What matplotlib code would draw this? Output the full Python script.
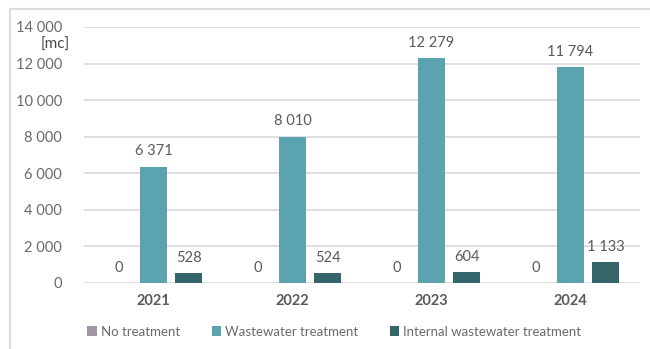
import numpy as np
import matplotlib.pyplot as plt
from matplotlib.lines import Line2D

years = ['2021', '2022', '2023', '2024']
no_treatment = [0, 0, 0, 0]
wastewater = [6371, 8010, 12279, 11794]
internal = [528, 524, 604, 1133]
series_names = ['No treatment', 'Wastewater treatment', 'Internal wastewater treatment']
colors = ['#a096a8', '#5ba3ae', '#33656a']

plt.rcParams['font.family'] = ['Lato', 'DejaVu Sans']
txt = '#5a5a5a'


def fmt(v):
    return f'{v:,.0f}'.replace(',', ' ')


fig = plt.figure(figsize=(6.5, 3.49), dpi=100)
ax = fig.add_axes([84 / 650, 66 / 349, 556 / 650, 256 / 349])

x = np.arange(len(years))
w = 0.195
off = 0.252
for i, vals in enumerate([no_treatment, wastewater, internal]):
    bars = ax.bar(x + (i - 1) * off, vals, w, color=colors[i], label=series_names[i], zorder=3)
    for b, v in zip(bars, vals):
        ax.annotate(fmt(v), (b.get_x() + b.get_width() / 2, v), xytext=(0, 6),
                    textcoords='offset points', ha='center', va='bottom',
                    fontsize=10.5, color=txt)

ax.set_xlim(-0.5, len(years) - 0.5)
ax.set_ylim(0, 14000)
ax.set_yticks(np.arange(0, 14001, 2000))
ax.set_yticklabels([fmt(t) for t in np.arange(0, 14001, 2000)])
ax.set_xticks(x)
ax.set_xticklabels(years, fontweight='bold')
ax.tick_params(axis='y', length=0, pad=16, labelsize=10.5, labelcolor='#6a6a6a')
ax.tick_params(axis='x', length=0, pad=8, labelsize=10.5, labelcolor=txt)
ax.grid(axis='y', color='#d9d9d9', linewidth=1.2, zorder=0)
for s in ax.spines.values():
    s.set_visible(False)

fig.text(70 / 650, 1 - 45 / 349, '[mc]', ha='right', va='center', fontsize=11, color='#4a4a4a')

ax.legend(loc='upper center', bbox_to_anchor=(0.45, -0.12), ncol=3, frameon=False,
          fontsize=9.5, labelcolor='#6a6a6a', handlelength=0.7, handleheight=0.7,
          handletextpad=0.3, columnspacing=2.4)

# outer frame, only top and left edges
fig.add_artist(Line2D([10 / 650, 1], [1 - 9 / 349, 1 - 9 / 349], color='#dcdcdc', linewidth=1.5))
fig.add_artist(Line2D([10 / 650, 10 / 650], [0, 1 - 9 / 349], color='#dcdcdc', linewidth=1.5))

fig.savefig('out.png', dpi=100)
